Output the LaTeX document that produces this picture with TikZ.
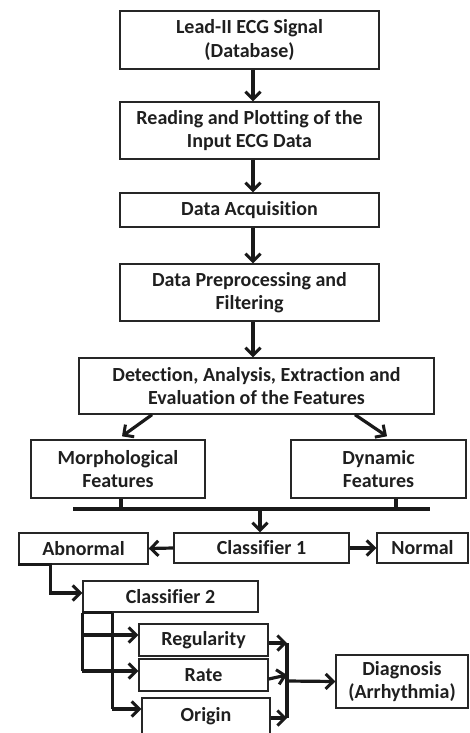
\documentclass[tikz,border=0pt]{standalone}
\usepackage{fontspec}
\setmainfont[Ligatures=NoCommon]{Carlito}
\usetikzlibrary{arrows.meta,calc}
\begin{document}
\begin{tikzpicture}[x=1pt,y=-1pt,
  box/.style={draw=black!85,line width=1.4pt,align=center,inner sep=0pt,
    font=\fontsize{20}{23.5}\selectfont\bfseries,text=black!88},
  conn/.style={line width=3.2pt,draw=black!90,-{Straight Barb[length=7.5pt,width=15pt,line width=3pt]}},
  plain/.style={line width=3.2pt,draw=black!90}]
\useasboundingbox (0,0) rectangle (469,733);
\node[box,minimum width=259pt,minimum height=58pt] (b1) at (249.5,40) {Lead-II ECG Signal\\(Database)};
\node[box,minimum width=259pt,minimum height=57pt] (b2) at (249.5,130.5) {Reading and Plotting of the\\Input ECG Data};
\node[box,minimum width=259pt,minimum height=34pt] (b3) at (249.5,210) {Data Acquisition};
\node[box,minimum width=259pt,minimum height=57pt] (b4) at (249.5,292.5) {Data Preprocessing and\\Filtering};
\node[box,minimum width=355pt,minimum height=56pt] (b5) at (256.5,386) {Detection, Analysis, Extraction and\\Evaluation of the Features};
\node[box,minimum width=174pt,minimum height=58pt] (morph) at (118,469) {Morphological\\Features};
\node[box,minimum width=175pt,minimum height=58pt] (dyn) at (378.5,469) {Dynamic\\Features};
\node[box,minimum width=175pt,minimum height=30pt] (c1) at (261.5,548) {Classifier 1};
\node[box,minimum width=129pt,minimum height=31pt] (abn) at (83.5,548.5) {Abnormal};
\node[box,minimum width=91pt,minimum height=30pt] (norm) at (422.5,548) {Normal};
\node[box,minimum width=175pt,minimum height=31pt] (c2) at (170.5,596.5) {Classifier 2};
\node[box,minimum width=129pt,minimum height=32pt] (reg) at (203.5,640) {Regularity};
\node[box,minimum width=129pt,minimum height=32pt] (rate) at (203.5,675) {Rate};
\node[box,minimum width=128pt,minimum height=44pt,text depth=0pt] (orig) at (206,720) {\raisebox{12pt}{Origin}};
\node[box,minimum width=132pt,minimum height=53pt] (diag) at (402,681.5) {Diagnosis\\(Arrhythmia)};
% main chain
\draw[conn] ([xshift=3.5pt]b1.south) -- ([xshift=3.5pt]b2.north);
\draw[conn] ([xshift=3.5pt]b2.south) -- ([xshift=3.5pt]b3.north);
\draw[conn] ([xshift=3.5pt]b3.south) -- ([xshift=3.5pt]b4.north);
\draw[conn] ([xshift=3.5pt]b4.south) -- ([xshift=-3.5pt]b5.north);
% diagonals
\draw[conn] ([xshift=-104.5pt]b5.south) -- ([xshift=4pt,yshift=3pt]morph.north);
\draw[conn] ([xshift=98.5pt]b5.south) -- ([xshift=8.5pt,yshift=3pt]dyn.north);
% bus
\coordinate (busL) at (73,509);
\coordinate (busR) at (430,509);
\draw[plain] (busL) -- (busR);
\draw[plain] ([xshift=3pt]morph.south) -- ([xshift=3pt]morph.south |- busL);
\draw[plain] ([xshift=17.5pt]dyn.south) -- ([xshift=17.5pt]dyn.south |- busL);
\draw[conn] ($(c1.north |- busL)+(-1.5,0)$) -- ([xshift=-1.5pt]c1.north);
% classifier 1 outputs
\draw[conn] (c1.west) -- (abn.east);
\draw[conn] (c1.east) -- (norm.west);
% abnormal to classifier 2
\draw[conn] (abn.south west) -- ++(32,0) |- ([yshift=3.5pt]c2.west);
% classifier 2 branches
\coordinate (k1) at (c2.south west);
\coordinate (k2) at ($(c2.south west)+(30,0)$);
\draw[plain] (k1) -- (k2);
\draw[plain] (k1) -- ($(k1 |- rate.west)+(0,-4)$);
\draw[conn] ($(k1 |- reg.west)+(0,-5)$) -- ([yshift=5pt]reg.west);
\draw[conn] ($(k1 |- rate.west)+(0,-4)$) -- ([yshift=4pt]rate.west);
\draw[plain] (k2) -- ($(k2 |- orig.west)+(0,-11)$);
\draw[conn] ($(k2 |- orig.west)+(0,-11)$) -- ([yshift=11pt]orig.west);
% to diagnosis
\coordinate (j) at (287,681);
\coordinate (jt) at (287,643);
\coordinate (jb) at (287,718);
\draw[plain] (jt) -- (jb);
\draw[conn] ([yshift=-3pt]reg.east) -- (jt);
\draw[conn] ([yshift=-4pt]rate.east) -- (rate.east -| jt);
\draw[conn] ([yshift=2pt]orig.east) -- (jb);
\draw[conn] (j) -- (diag.west);
\end{tikzpicture}
\end{document}
